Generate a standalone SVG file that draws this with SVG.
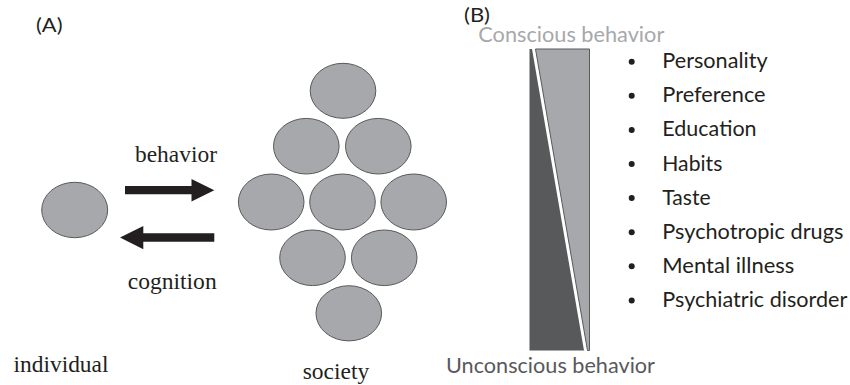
<svg xmlns="http://www.w3.org/2000/svg" width="850" height="385" viewBox="0 0 850 385">
<style>
.bg{fill:#ffffff}
.cell{fill:#a7a8ab;stroke:#58595b;stroke-width:1}
.arrow{fill:#231f20}
.serif{font-family:"Liberation Serif","Times New Roman",serif;font-size:23px;fill:#231f20}
.sans{font-family:Lato,"Liberation Sans",sans-serif;font-size:22px;fill:#231f20}
.lbl{font-family:Lato,"Liberation Sans",sans-serif;font-size:19px;fill:#231f20}
.dot{fill:#231f20}
</style>
<rect class="bg" x="0" y="0" width="850" height="385"/>
<text class="lbl" x="36" y="31.5" textLength="26.5" lengthAdjust="spacingAndGlyphs">(A)</text>
<text class="lbl" x="464" y="22" font-size="18" textLength="26" lengthAdjust="spacingAndGlyphs">(B)</text>

<g id="individual">
  <ellipse class="cell" cx="74.7" cy="210" rx="33" ry="27.7"/>
  <text class="serif" x="13.5" y="371.5" textLength="95" lengthAdjust="spacingAndGlyphs">individual</text>
</g>

<g id="society">
  <ellipse class="cell" cx="343" cy="90.8" rx="32.8" ry="27.5"/>
  <ellipse class="cell" cx="306.3" cy="146.2" rx="32.8" ry="27.8"/>
  <ellipse class="cell" cx="378.3" cy="146.2" rx="32.8" ry="27.8"/>
  <ellipse class="cell" cx="271.2" cy="202" rx="32.8" ry="28"/>
  <ellipse class="cell" cx="342.5" cy="202" rx="32.8" ry="28"/>
  <ellipse class="cell" cx="413.7" cy="202" rx="32.8" ry="28"/>
  <ellipse class="cell" cx="312.5" cy="257.8" rx="32.8" ry="27.8"/>
  <ellipse class="cell" cx="384.2" cy="257.8" rx="32.8" ry="27.8"/>
  <ellipse class="cell" cx="348.8" cy="313.3" rx="32.8" ry="27.6"/>
  <text class="serif" x="302.7" y="378.5" textLength="66.6" lengthAdjust="spacingAndGlyphs">society</text>
</g>

<g id="connectors">
  <g id="behavior-arrow">
    <polygon class="arrow" points="125,186 191.5,186 191.5,179 214.3,190.2 191.5,201.5 191.5,194.3 125,194.3"/>
    <text class="serif" x="135" y="161.5" textLength="82" lengthAdjust="spacingAndGlyphs">behavior</text>
  </g>
  <g id="cognition-arrow">
    <polygon class="arrow" points="214.3,233.3 143.3,233.3 143.3,226 120,237.6 143.3,249.3 143.3,241.7 214.3,241.7"/>
    <text class="serif" x="127.7" y="289.3" textLength="89" lengthAdjust="spacingAndGlyphs">cognition</text>
  </g>
</g>

<g id="gradient-bar">
  <text x="478.3" y="41.7" font-family="Lato,'Liberation Sans',sans-serif" font-size="21" fill="#a7a8ab" textLength="186" lengthAdjust="spacingAndGlyphs">Conscious behavior</text>
  <polygon points="529.5,49 532,49 584,350.5 529.5,350.5" fill="#58595b"/>
  <polygon points="535.5,49 589.5,49 589.5,350.5 587.5,350.5" fill="#a7a8ab" stroke="#58595b" stroke-width="1"/>
  <text x="446" y="373.3" font-family="Lato,'Liberation Sans',sans-serif" font-size="21" fill="#58595b" textLength="209" lengthAdjust="spacingAndGlyphs">Unconscious behavior</text>
</g>

<g id="factor-list">
  <circle class="dot" cx="631.7" cy="61.7" r="3"/>
  <text class="sans" x="662.3" y="68.3" textLength="105.3" lengthAdjust="spacingAndGlyphs">Personality</text>
  <circle class="dot" cx="631.7" cy="95.8" r="3"/>
  <text class="sans" x="662.3" y="102.3" textLength="103.3" lengthAdjust="spacingAndGlyphs">Preference</text>
  <circle class="dot" cx="631.7" cy="129.9" r="3"/>
  <text class="sans" x="662.3" y="136.4" textLength="94.3" lengthAdjust="spacingAndGlyphs">Education</text>
  <circle class="dot" cx="631.7" cy="164" r="3"/>
  <text class="sans" x="662.3" y="170.5" textLength="60" lengthAdjust="spacingAndGlyphs">Habits</text>
  <circle class="dot" cx="631.7" cy="198.1" r="3"/>
  <text class="sans" x="662.3" y="204.6" textLength="48.3" lengthAdjust="spacingAndGlyphs">Taste</text>
  <circle class="dot" cx="631.7" cy="232.2" r="3"/>
  <text class="sans" x="662.3" y="238.7" textLength="181" lengthAdjust="spacingAndGlyphs">Psychotropic drugs</text>
  <circle class="dot" cx="631.7" cy="266.3" r="3"/>
  <text class="sans" x="662.3" y="272.8" textLength="132" lengthAdjust="spacingAndGlyphs">Mental illness</text>
  <circle class="dot" cx="631.7" cy="300.4" r="3"/>
  <text class="sans" x="662.3" y="306.9" textLength="185" lengthAdjust="spacingAndGlyphs">Psychiatric disorder</text>
</g>
</svg>
